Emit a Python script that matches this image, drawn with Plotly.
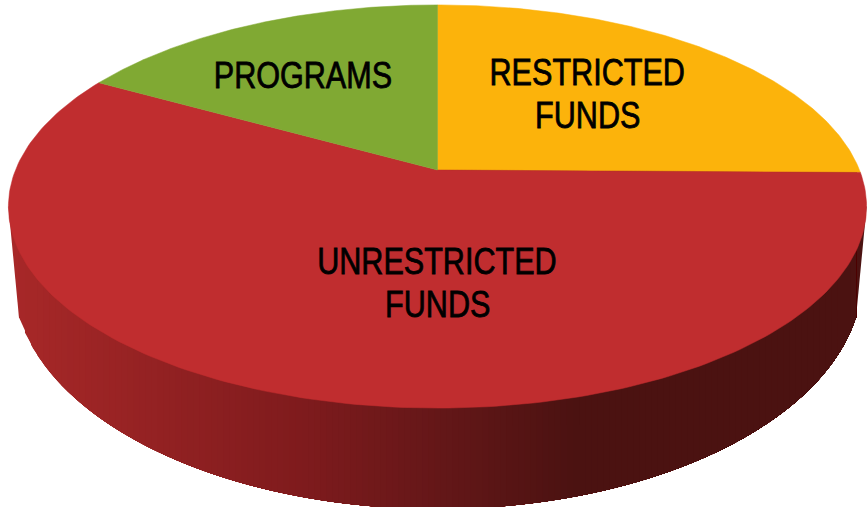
import numpy as np
import plotly.graph_objects as go

# Data (clockwise from 12 o'clock)
categories = ["RESTRICTED FUNDS", "UNRESTRICTED FUNDS", "PROGRAMS"]
values = [25.2, 57.9, 16.9]

# Styles
slice_colors = ["#fcb30b", "#c02d2f", "#80a933"]
label_font = "Liberation Sans, Arial, sans-serif"
label_size = 37
label_squeeze = 0.826

# Perspective model of the pie (axis units = the 867x507 canvas)
APEX_X, APEX_Y = 437.5, 170.0
A, B, K = 422.0, 195.0, 0.181
BOT_A, BOT_B, BOT_CY = 425.0, 232.0, 277.0
WALL_START_DEG = 100.0


def rim(deg):
    t = np.radians(deg)
    u, v = np.sin(t), np.cos(t)
    w = 1 + K * v
    return APEX_X + A * u / w, APEX_Y - B * v / w


def base(deg):
    t = np.radians(deg)
    return APEX_X + BOT_A * np.sin(t), BOT_CY - BOT_B * np.cos(t)


def wall_color(x):
    stops_x = [10, 300, 440, 575, 870]
    r = np.interp(x, stops_x, [0xa8, 0x7f, 0x64, 0x4b, 0x4b])
    g = np.interp(x, stops_x, [0x28, 0x1b, 0x17, 0x12, 0x12])
    b = np.interp(x, stops_x, [0x28, 0x1d, 0x18, 0x11, 0x11])
    return f"rgb({r:.0f},{g:.0f},{b:.0f})"


fig = go.Figure()


def add_poly(xs, ys, color, **kw):
    fig.add_trace(go.Scatter(x=xs, y=ys, mode="lines", fill="toself", fillcolor=color,
                             line=dict(color=color, width=0), showlegend=False, **kw))


# Wall ends: straight silhouette from the widest rim point to the base curve
widest = np.degrees(np.arccos(-K))
for side in (1, -1):
    d_rim = widest if side == 1 else 360 - widest
    d_base = WALL_START_DEG if side == 1 else 360 - WALL_START_DEG
    xr, yr = rim(d_rim)
    xb, yb = base(d_base)
    add_poly([xr, xb, xb + side * -4, xr], [yr, yb, yr, yr], wall_color(xb), hoverinfo="skip")

# Side wall: vertical shaded bands. Each band reaches to the wall's right end and
# the next band paints over it, so no seams appear between neighbouring bands.
x_left, x_right = base(360 - WALL_START_DEG)[0], base(WALL_START_DEG)[0]
band_edges = np.linspace(x_left, x_right, 140)
for x0 in band_edges[:-1]:
    xs = np.linspace(x0, x_right, 60)
    ys = BOT_CY + BOT_B * np.sqrt(1 - ((xs - APEX_X) / BOT_A) ** 2)
    add_poly(np.concatenate([[x0], xs, [x_right]]),
             np.concatenate([[APEX_Y], ys, [APEX_Y]]),
             wall_color(x0 + (x_right - x_left) / 278), hoverinfo="skip")

# Top face: one filled wedge per value
total = sum(values)
start = 0.0
for name, val, col in zip(categories, values, slice_colors):
    end = start + 360.0 * val / total
    ds = np.linspace(start, end, 200)
    xr, yr = rim(ds)
    fig.add_trace(go.Scatter(x=np.concatenate([[APEX_X], xr, [APEX_X]]),
                             y=np.concatenate([[APEX_Y], yr, [APEX_Y]]),
                             mode="lines", fill="toself", fillcolor=col,
                             line=dict(color=col, width=0.5), name=name,
                             hoverinfo="name", showlegend=False))
    start = end

# Labels (each line placed individually for the reference's tight leading)
label_lines = [
    ("RESTRICTED", 587, 72), ("FUNDS", 587, 115),
    ("UNRESTRICTED", 437, 261), ("FUNDS", 437, 304),
    ("PROGRAMS", 303, 75),
]
for text, x, y in label_lines:
    fig.add_annotation(x=x, y=y, xref="x", yref="y", text=text, showarrow=False,
                       font=dict(family=label_font, size=label_size, color="#000000"),
                       xanchor="center", yanchor="middle")

fig.update_layout(
    width=867, height=507, autosize=False,
    margin=dict(l=0, r=0, t=0, b=0),
    paper_bgcolor="white", plot_bgcolor="white", showlegend=False,
    xaxis=dict(range=[0, 867], visible=False, fixedrange=True),
    yaxis=dict(range=[507, 0], visible=False, fixedrange=True),
)

# The reference lettering is a condensed sans: squeeze the real text horizontally
post = """
document.body.style.margin='0';document.body.style.overflow='hidden';
document.querySelectorAll('.annotation-text').forEach(function(t){
  var w=t.getComputedTextLength();
  t.setAttribute('lengthAdjust','spacingAndGlyphs');
  t.setAttribute('textLength',(w*%f).toFixed(1));
  t.style.stroke='#000';t.style.strokeWidth='0.8px';
});
""" % label_squeeze
fig.write_html("out.html", config={"displayModeBar": False}, post_script=post)
